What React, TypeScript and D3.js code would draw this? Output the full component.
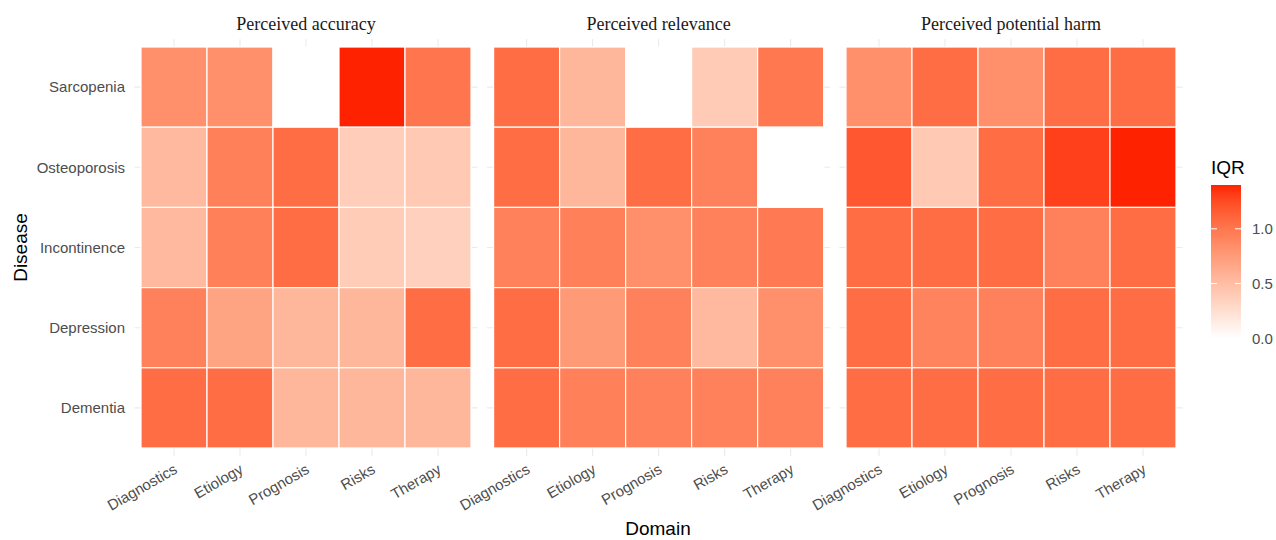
import React from "react";
import * as d3 from "d3";

const domains = ["Diagnostics", "Etiology", "Prognosis", "Risks", "Therapy"];
const diseases = ["Sarcopenia", "Osteoporosis", "Incontinence", "Depression", "Dementia"];
const panelTitles = ["Perceived accuracy", "Perceived relevance", "Perceived potential harm"];

// IQR per disease (rows, top to bottom) and domain (columns); null = missing
const accuracy = [
  [0.83, 0.83, null, 1.4, 1.01],
  [0.53, 0.94, 1.06, 0.38, 0.41],
  [0.53, 0.94, 1.06, 0.39, 0.36],
  [0.93, 0.69, 0.55, 0.55, 1.06],
  [1.06, 1.06, 0.55, 0.55, 0.55],
];
const relevance = [
  [1.06, 0.55, null, 0.4, 0.99],
  [1.06, 0.55, 1.06, 0.93, null],
  [0.93, 0.94, 0.83, 0.93, 0.98],
  [1.06, 0.76, 0.93, 0.53, 0.83],
  [1.06, 0.94, 0.93, 0.93, 0.93],
];
const harm = [
  [0.83, 1.06, 0.83, 1.06, 1.06],
  [1.18, 0.41, 1.06, 1.3, 1.4],
  [1.06, 1.06, 1.06, 0.93, 1.06],
  [1.06, 0.92, 0.93, 1.06, 1.06],
  [1.06, 1.06, 1.06, 1.06, 1.06],
];
const legendTicks = [0, 0.5, 1.0];

const App = () => {
  const svgRef = React.useRef<SVGSVGElement>(null);
  const width = 1276;
  const height = 540;

  React.useEffect(() => {
    const svg = d3.select(svgRef.current);
    svg.selectAll("*").remove();

    const sans = "'Liberation Sans', Arial, sans-serif";
    const serif = "'Liberation Serif', 'Times New Roman', serif";

    const color = d3.scaleLinear<string>()
      .domain([0, 1.4])
      .range(["#ffffff", "#ff2200"])
      .interpolate(d3.interpolateLab);

    const panelX = [[134.4, 477.6], [487, 830.2], [839.4, 1182.6]];
    const y = d3.scaleBand().domain(diseases).range([39, 456]).paddingInner(0).paddingOuter(0.1);

    const allData = [accuracy, relevance, harm];

    panelTitles.forEach((title, p) => {
      const x = d3.scaleBand().domain(domains).range(panelX[p] as [number, number])
        .paddingInner(0).paddingOuter(0.1);
      const g = svg.append("g");

      // grid lines
      g.selectAll(".vgrid").data(domains).enter().append("line")
        .attr("x1", d => x(d)! + x.bandwidth() / 2)
        .attr("x2", d => x(d)! + x.bandwidth() / 2)
        .attr("y1", 39).attr("y2", 456)
        .attr("stroke", "#ebebeb").attr("stroke-width", 1.1);
      g.selectAll(".hgrid").data(diseases).enter().append("line")
        .attr("y1", d => y(d)! + y.bandwidth() / 2)
        .attr("y2", d => y(d)! + y.bandwidth() / 2)
        .attr("x1", panelX[p][0]).attr("x2", panelX[p][1])
        .attr("stroke", "#ebebeb").attr("stroke-width", 1.1);

      const cells: { dis: string; dom: string; v: number | null }[] = [];
      diseases.forEach((dis, i) => domains.forEach((dom, j) => {
        cells.push({ dis, dom, v: allData[p][i][j] });
      }));

      g.selectAll(".tile").data(cells).enter().append("rect")
        .attr("x", d => x(d.dom)!)
        .attr("y", d => y(d.dis)!)
        .attr("width", x.bandwidth())
        .attr("height", y.bandwidth())
        .attr("fill", d => d.v == null ? "#ffffff" : color(d.v))
        .attr("stroke", "#ffffff")
        .attr("stroke-width", 1.2);

      // strip title
      svg.append("text")
        .attr("x", (panelX[p][0] + panelX[p][1]) / 2)
        .attr("y", 30)
        .attr("text-anchor", "middle")
        .attr("font-family", serif)
        .attr("font-size", 18)
        .attr("fill", "#1a1a1a")
        .text(title);

      // x tick labels
      g.selectAll(".xlab").data(domains).enter().append("text")
        .attr("transform", d => `translate(${x(d)! + x.bandwidth() / 2 - 1},${463}) rotate(-30)`)
        .attr("text-anchor", "end")
        .attr("dy", "0.71em")
        .attr("font-family", sans)
        .attr("font-size", 15)
        .attr("fill", "#4d4d4d")
        .text(d => d);
    });

    // y tick labels
    svg.selectAll(".ylab").data(diseases).enter().append("text")
      .attr("x", 125)
      .attr("y", d => y(d)! + y.bandwidth() / 2)
      .attr("dy", "0.35em")
      .attr("text-anchor", "end")
      .attr("font-family", sans)
      .attr("font-size", 15)
      .attr("fill", "#4d4d4d")
      .text(d => d);

    // axis titles
    svg.append("text")
      .attr("transform", `translate(27,247.5) rotate(-90)`)
      .attr("text-anchor", "middle")
      .attr("font-family", sans)
      .attr("font-size", 19)
      .attr("fill", "#000")
      .text("Disease");
    svg.append("text")
      .attr("x", 658)
      .attr("y", 535)
      .attr("text-anchor", "middle")
      .attr("font-family", sans)
      .attr("font-size", 19)
      .attr("fill", "#000")
      .text("Domain");

    // legend
    const ly = d3.scaleLinear().domain([0, 1.4]).range([338.3, 185]);
    const grad = svg.append("defs").append("linearGradient")
      .attr("id", "iqrGrad").attr("x1", 0).attr("x2", 0).attr("y1", 1).attr("y2", 0);
    d3.range(0, 1.0001, 0.05).forEach(t => {
      grad.append("stop").attr("offset", t).attr("stop-color", color(t * 1.4));
    });
    svg.append("rect")
      .attr("x", 1211).attr("y", ly(1.4)).attr("width", 30).attr("height", ly(0) - ly(1.4))
      .attr("fill", "url(#iqrGrad)");
    svg.selectAll(".ltick").data(legendTicks).enter().append("g").each(function (d) {
      const t = d3.select(this);
      t.append("line").attr("x1", 1211).attr("x2", 1217).attr("y1", ly(d)).attr("y2", ly(d))
        .attr("stroke", "#fff").attr("stroke-width", 1);
      t.append("line").attr("x1", 1235).attr("x2", 1241).attr("y1", ly(d)).attr("y2", ly(d))
        .attr("stroke", "#fff").attr("stroke-width", 1);
      t.append("text").attr("x", 1252).attr("y", ly(d)).attr("dy", "0.35em")
        .attr("font-family", sans).attr("font-size", 15).attr("fill", "#4d4d4d")
        .text(d3.format(".1f")(d));
    });
    svg.append("text")
      .attr("x", 1211).attr("y", 174)
      .attr("font-family", sans).attr("font-size", 19).attr("fill", "#000")
      .text("IQR");
  }, []);

  return (
    <svg ref={svgRef} width={width} height={height}
      style={{ position: "absolute", left: 0, top: 0, background: "#fff" }} />
  );
};

export default App;
